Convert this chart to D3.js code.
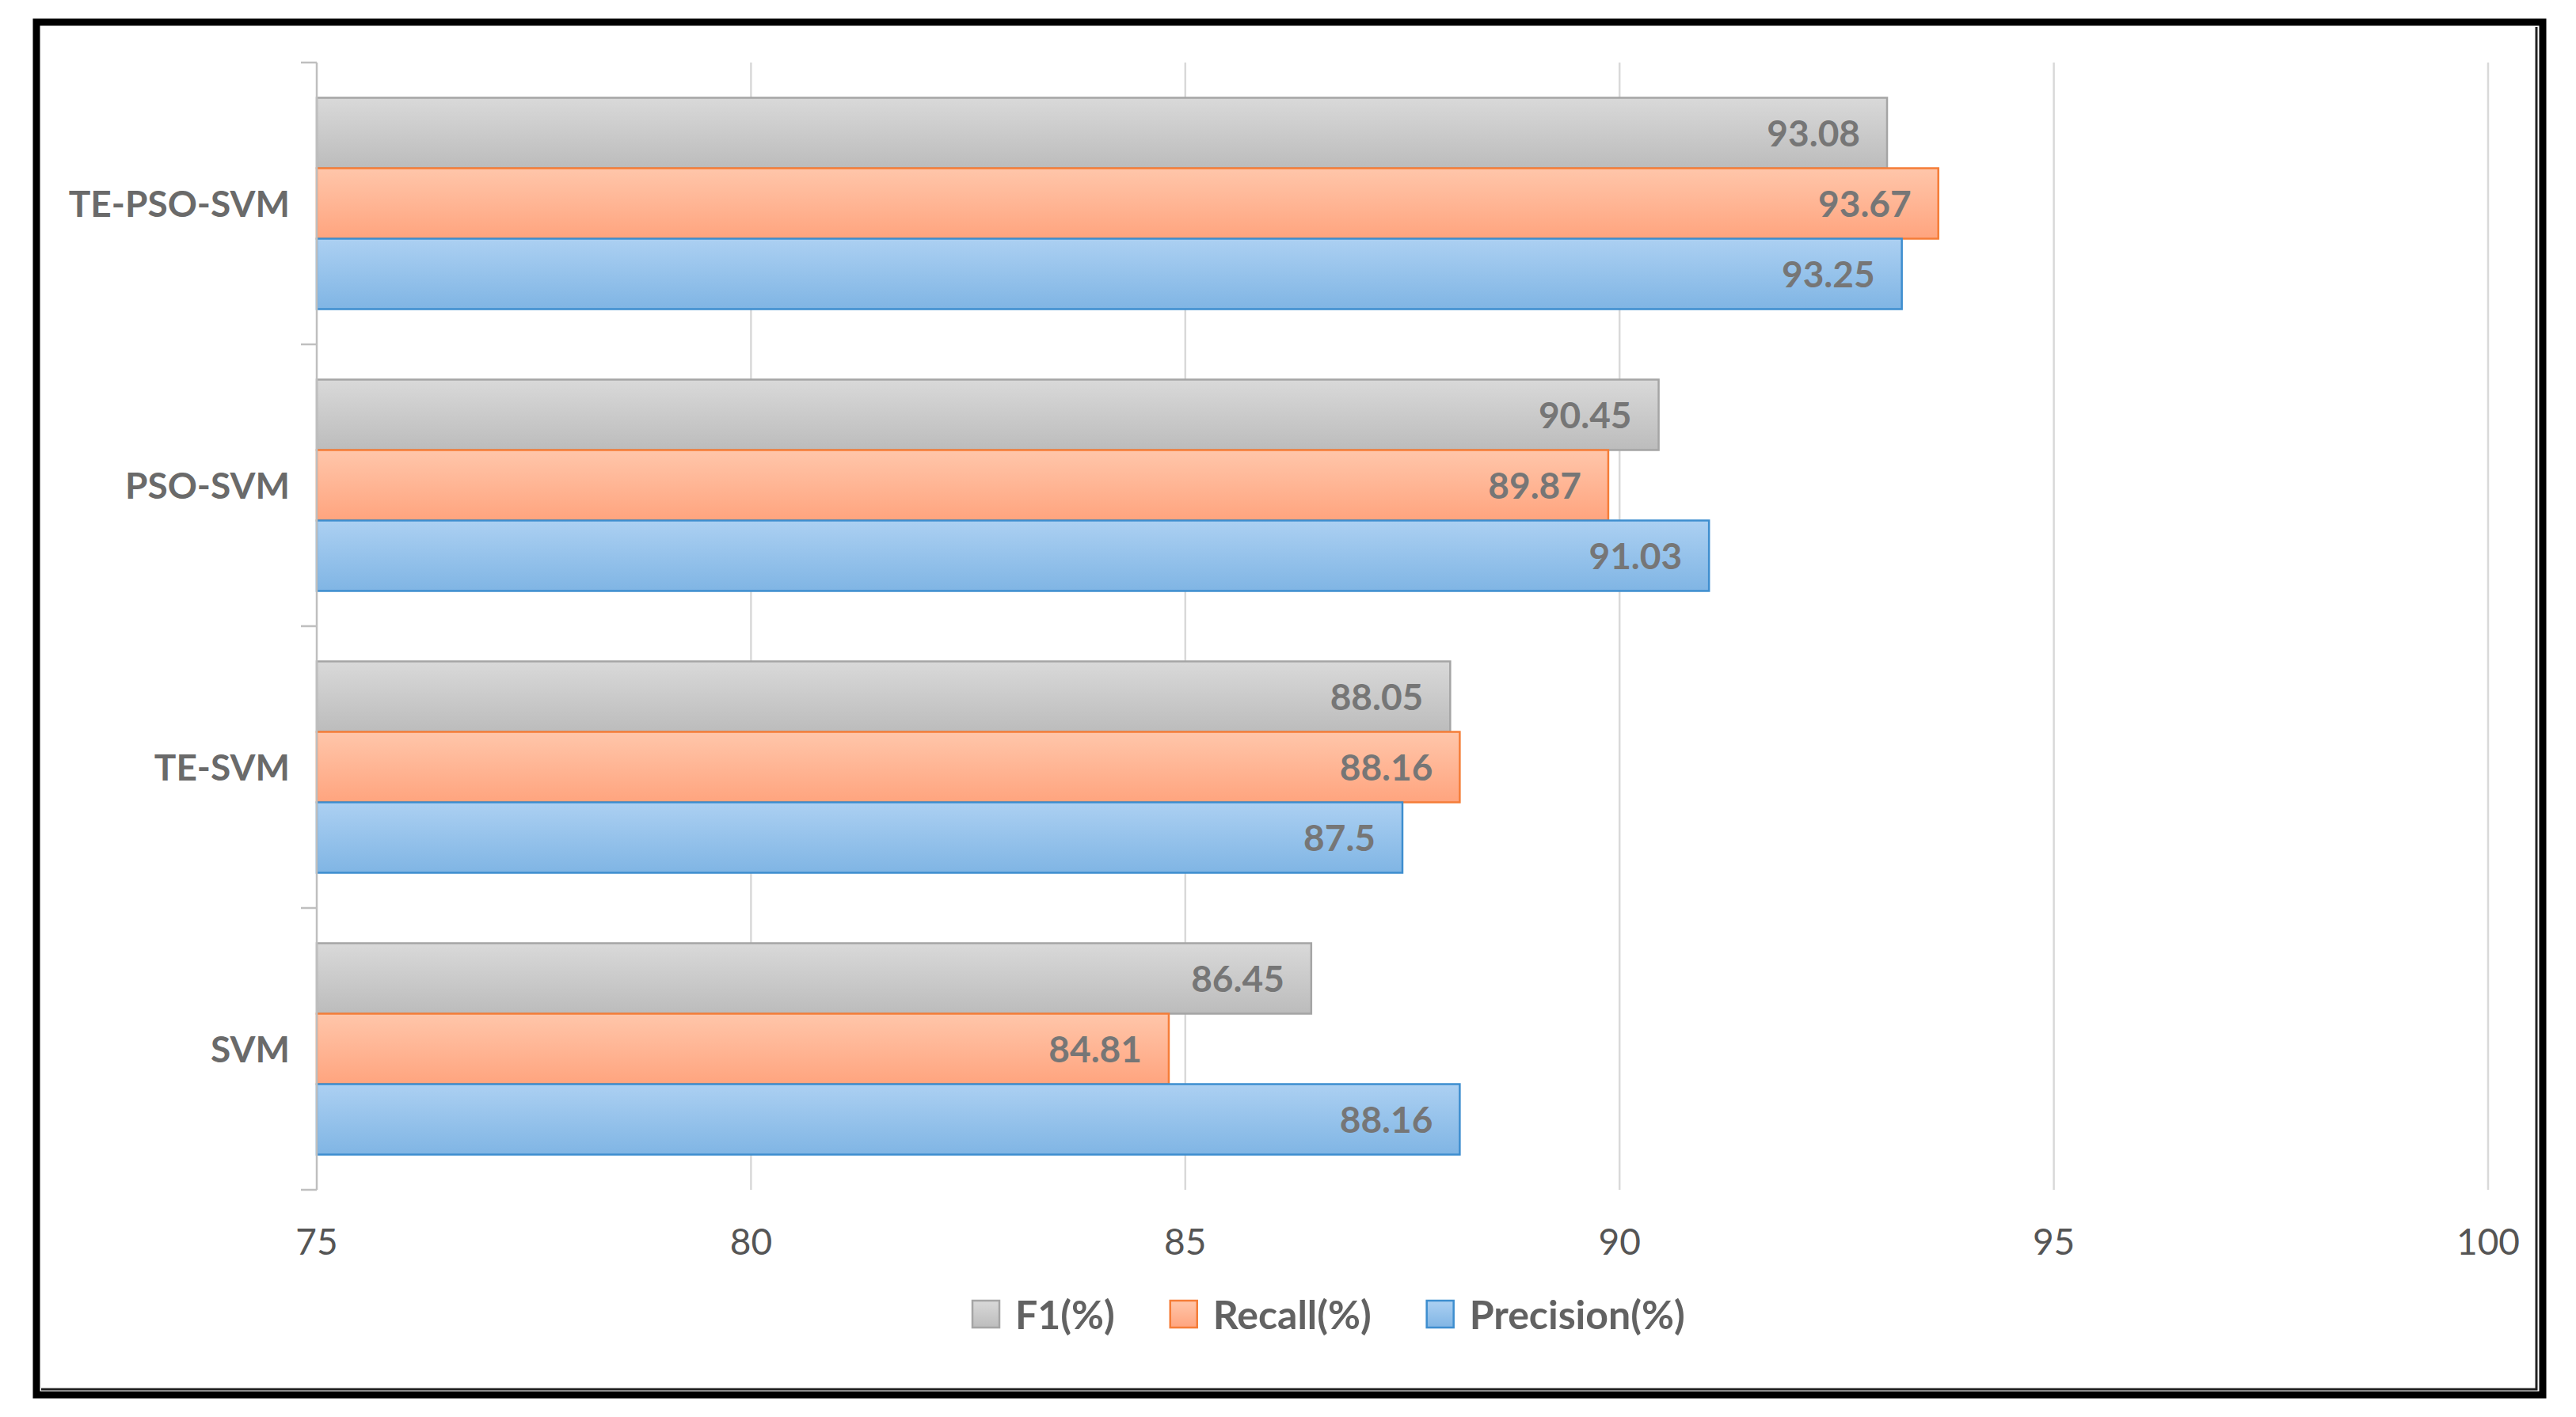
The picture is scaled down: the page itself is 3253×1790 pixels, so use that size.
<!DOCTYPE html>
<html>
<head>
<meta charset="utf-8">
<script src="https://cdn.jsdelivr.net/npm/d3@7/dist/d3.min.js"></script>
<style>
  html, body { margin: 0; padding: 0; background: #ffffff; }
  svg { display: block; }
  text { font-family: "Lato", "Open Sans", "Liberation Sans", sans-serif; }
</style>
</head>
<body>
<svg id="chart" width="3253" height="1790"></svg>
<script>
// ---- data ----
const categories = ["TE-PSO-SVM", "PSO-SVM", "TE-SVM", "SVM"];
const seriesNames = ["F1(%)", "Recall(%)", "Precision(%)"];
const f1Values = [93.08, 90.45, 88.05, 86.45];
const recallValues = [93.67, 89.87, 88.16, 84.81];
const precisionValues = [93.25, 91.03, 87.5, 88.16];
const xTicks = [75, 80, 85, 90, 95, 100];

const seriesValues = [f1Values, recallValues, precisionValues];
const seriesStyle = [
  { top: "#d9d9d9", bottom: "#bcbcbc", stroke: "#a5a5a5", id: "gGray" },
  { top: "#ffc6aa", bottom: "#ffa47e", stroke: "#f57d38", id: "gOrange" },
  { top: "#acd0f2", bottom: "#80b5e4", stroke: "#3e8ecf", id: "gBlue" }
];

const svg = d3.select("#chart");
const W = 3253, H = 1790;
svg.append("rect").attr("width", W).attr("height", H).attr("fill", "#fff");

// gradients
const defs = svg.append("defs");
seriesStyle.forEach(s => {
  const g = defs.append("linearGradient").attr("id", s.id)
    .attr("x1", 0).attr("y1", 0).attr("x2", 0).attr("y2", 1);
  g.append("stop").attr("offset", "0%").attr("stop-color", s.top);
  g.append("stop").attr("offset", "100%").attr("stop-color", s.bottom);
});

// scales
const x = d3.scaleLinear().domain([75, 100]).range([400, 3142]);
const y0 = d3.scaleBand().domain(categories).range([79, 1503]).paddingInner(0).paddingOuter(0);
const y1 = d3.scaleBand().domain(seriesNames).range([0, y0.bandwidth()]).paddingInner(0).paddingOuter(0.5);

// gridlines
svg.append("g").selectAll("line").data(xTicks.slice(1)).join("line")
  .attr("x1", d => x(d)).attr("x2", d => x(d))
  .attr("y1", 79).attr("y2", 1503)
  .attr("stroke", "#d9d9d9").attr("stroke-width", 2.5);

// bars
const rows = [];
categories.forEach((c, i) => {
  seriesNames.forEach((s, j) => {
    rows.push({ cat: c, ser: s, j: j, value: seriesValues[j][i] });
  });
});

const barG = svg.append("g");
barG.selectAll("rect").data(rows).join("rect")
  .attr("x", x(75))
  .attr("y", d => y0(d.cat) + y1(d.ser))
  .attr("width", d => x(d.value) - x(75))
  .attr("height", y1.bandwidth())
  .attr("fill", d => `url(#${seriesStyle[d.j].id})`)
  .attr("stroke", d => seriesStyle[d.j].stroke)
  .attr("stroke-width", 2.5);

// value labels
svg.append("g").selectAll("text").data(rows).join("text")
  .attr("x", d => x(d.value) - 34)
  .attr("y", d => y0(d.cat) + y1(d.ser) + y1.bandwidth() / 2)
  .attr("dy", "0.36em")
  .attr("text-anchor", "end")
  .attr("font-size", 46)
  .attr("font-weight", "bold")
  .attr("fill", "#767676")
  .text(d => d.value);

// y axis line and ticks
const axisG = svg.append("g");
axisG.append("line")
  .attr("x1", x(75)).attr("x2", x(75)).attr("y1", 79).attr("y2", 1503)
  .attr("stroke", "#bfbfbf").attr("stroke-width", 2.5);
const boundaries = categories.map(c => y0(c)).concat([y0.range()[1]]);
axisG.selectAll("line.tick").data(boundaries).join("line")
  .attr("class", "tick")
  .attr("x1", x(75) - 20).attr("x2", x(75))
  .attr("y1", d => d).attr("y2", d => d)
  .attr("stroke", "#bfbfbf").attr("stroke-width", 2.5);

// category labels
svg.append("g").selectAll("text").data(categories).join("text")
  .attr("x", 366)
  .attr("y", d => y0(d) + y0.bandwidth() / 2)
  .attr("dy", "0.36em")
  .attr("text-anchor", "end")
  .attr("font-size", 46)
  .attr("font-weight", "bold")
  .attr("fill", "#6a6a6a")
  .text(d => d);

// x tick labels
svg.append("g").selectAll("text").data(xTicks).join("text")
  .attr("x", d => x(d))
  .attr("y", 1585)
  .attr("text-anchor", "middle")
  .attr("font-size", 46)
  .attr("fill", "#555555")
  .text(d => d);

// legend
const legG = svg.append("g");
let lx = 1228;
seriesNames.forEach((s, j) => {
  legG.append("rect")
    .attr("x", lx).attr("y", 1643).attr("width", 34).attr("height", 34)
    .attr("fill", `url(#${seriesStyle[j].id})`)
    .attr("stroke", seriesStyle[j].stroke).attr("stroke-width", 2.5);
  const t = legG.append("text")
    .attr("x", lx + 54).attr("y", 1679)
    .attr("font-size", 50).attr("font-weight", "bold")
    .attr("fill", "#626262")
    .text(s);
  const w = t.node().getComputedTextLength();
  lx = lx + 54 + w + 70;
});

// frame
svg.append("rect")
  .attr("x", 46).attr("y", 28).attr("width", 3165).attr("height", 1734)
  .attr("fill", "none").attr("stroke", "#000").attr("stroke-width", 9);
svg.append("path")
  .attr("d", "M 52 1755 H 3203 V 34")
  .attr("fill", "none").attr("stroke", "#222").attr("stroke-width", 3);
</script>
</body>
</html>
